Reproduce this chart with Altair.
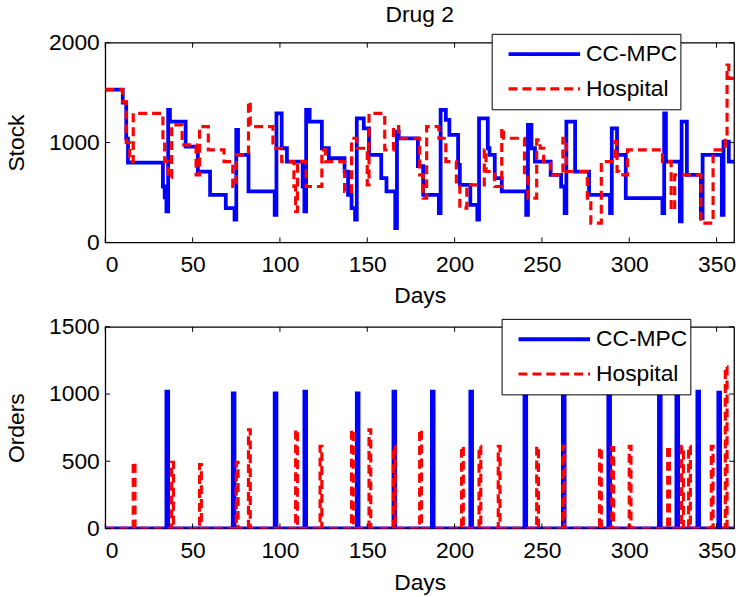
import altair as alt
import pandas as pd

series_names = ["CC-MPC", "Hospital"]
series_colors = ["#0000ff", "#ff0000"]

x_ticks = [0, 50, 100, 150, 200, 250, 300, 350]
stock_ticks = [0, 1000, 2000]
order_ticks = [0, 500, 1000, 1500]

# ---- Stock (top panel), change points of stairs ----
mpc_stock_days = [0, 10, 12, 13, 33, 34, 35, 36, 37, 46, 53, 60, 69, 74, 75, 76, 82, 97, 98, 101,
                  104, 113, 114, 115, 117, 124, 128, 137, 139, 141, 143, 144, 148, 151, 158, 161, 166, 167, 168, 179,
                  182, 191, 192, 195, 197, 202, 203, 209, 213, 214, 219, 220, 223, 227, 241, 242, 244, 246, 255, 261,
                  263, 264, 269, 277, 289, 290, 293, 298, 319, 320, 321, 329, 330, 333, 341, 342, 353, 354, 357, 360]
mpc_stock_vals = [1530, 1400, 1040, 800, 560, 450, 310, 1327, 1210, 960, 710, 477, 343, 227, 1127, 877, 510, 277, 1293, 943,
                  810, 560, 310, 1327, 1210, 943, 843, 710, 477, 343, 227, 1243, 1143, 877, 643, 510, 143, 1110, 1043, 763,
                  477, 293, 1327, 1227, 1077, 777, 577, 377, 227, 1243, 943, 877, 643, 510, 277, 1177, 943, 810, 677, 560,
                  293, 1210, 710, 477, 293, 1143, 877, 443, 293, 1293, 810, 210, 1210, 677, 243, 877, 277, 1010, 810, 810]

hosp_stock_days = [0, 10, 12, 14, 16, 33, 34, 36, 38, 44, 52, 54, 59, 68, 73, 75, 82, 83, 96, 101,
                   108, 109, 110, 115, 124, 126, 137, 141, 144, 150, 151, 160, 165, 168, 180, 182, 184, 191, 195, 201,
                   203, 207, 217, 218, 223, 227, 228, 240, 242, 247, 249, 251, 255, 262, 264, 276, 278, 284, 292, 293,
                   294, 299, 319, 324, 326, 341, 348, 355, 356, 357, 360]
hosp_stock_vals = [1530, 1410, 1000, 810, 1293, 1010, 810, 650, 1177, 977, 677, 1160, 927, 810, 560, 877, 1410, 1160, 943, 810,
                   560, 310, 810, 560, 927, 810, 510, 1043, 943, 577, 1293, 927, 1160, 1043, 677, 443, 1160, 1043, 810, 577,
                   343, 577, 927, 710, 560, 1143, 1043, 677, 443, 1027, 943, 810, 677, 1043, 710, 443, 193, 810, 1010, 710,
                   677, 927, 810, 327, 677, 193, 927, 1043, 1777, 1643, 1643]

# ---- Orders (bottom panel) ----
mpc_order_days = [35, 73, 97, 114, 144, 165, 187, 209, 240, 262, 288, 317, 327, 339, 351]
mpc_order_vals = [1017, 1005, 1005, 1017, 1005, 1017, 1017, 1017, 1017, 1017, 1017, 1017, 1017, 1017, 1010]

hosp_order_days = [16, 38, 54, 75, 82, 109, 123, 141, 151, 165, 180, 204, 214, 225, 247, 262, 283, 290, 300,
                   322, 330, 334, 347, 355]
hosp_order_vals = [492, 492, 475, 492, 734, 734, 611, 734, 734, 611, 734, 611, 611, 611, 611, 611, 601, 601, 611,
                   611, 611, 611, 611, 1203]

END_DAY = 360


def stairs(days, vals, name):
    return pd.DataFrame({"day": days, "value": vals, "series": name})


def spikes(days, vals, name):
    d, v = [0], [0]
    for x, y in zip(days, vals):
        d += [x, x + 1]
        v += [y, 0]
    d.append(END_DAY)
    v.append(0)
    return pd.DataFrame({"day": d, "value": v, "series": name})


stock_df = pd.concat([stairs(mpc_stock_days, mpc_stock_vals, series_names[0]),
                      stairs(hosp_stock_days, hosp_stock_vals, series_names[1])], ignore_index=True)
order_df = pd.concat([spikes(mpc_order_days, mpc_order_vals, series_names[0]),
                      spikes(hosp_order_days, hosp_order_vals, series_names[1])], ignore_index=True)

FONT = "Liberation Sans"
FS = 23
W = 633


def make_legend(lx, ly):
    return alt.Legend(
        title=None, orient="none", legendX=lx, legendY=ly,
        symbolType="stroke", symbolSize=72 * 72, symbolStrokeWidth=3.5,
        clipHeight=35, rowPadding=0, symbolOffset=12, labelOffset=4,
        labelFont=FONT, labelFontSize=FS, labelColor="#000",
        strokeColor="#000", fillColor="#fff", padding=3, cornerRadius=0,
        labelExpr="datum.label + '   '",
    )


def panel(df, ytitle, ydom, yticks, H, lx, ly):
    xs = alt.Scale(domain=[0, END_DAY], nice=False, zero=False)
    ys = alt.Scale(domain=ydom, nice=False)
    xa = alt.Axis(values=x_ticks, title="Days", labelPadding=11, titlePadding=9, format="d")
    ya = alt.Axis(values=yticks, title=ytitle, labelPadding=6, titlePadding=20, format="d")
    lines = alt.Chart(df).mark_line(interpolate="step-after", clip=True).encode(
        x=alt.X("day:Q", scale=xs, axis=xa),
        y=alt.Y("value:Q", scale=ys, axis=ya),
        color=alt.Color("series:N", scale=alt.Scale(domain=series_names, range=series_colors),
                        legend=make_legend(lx, ly)),
        strokeDash=alt.StrokeDash("series:N", scale=alt.Scale(domain=series_names, range=[[1, 0], [9, 5]]),
                                  legend=make_legend(lx, ly)),
        strokeWidth=alt.StrokeWidth("series:N", scale=alt.Scale(domain=series_names, range=[3.8, 3.2]),
                                    legend=None),
    )
    xt = pd.DataFrame({"day": x_ticks})
    yt = pd.DataFrame({"value": yticks})
    tk_bottom = alt.Chart(xt).mark_rule(color="#000", strokeWidth=1).encode(
        x=alt.X("day:Q", scale=xs, axis=xa), y=alt.value(H), y2=alt.value(H - 5))
    tk_top = alt.Chart(xt).mark_rule(color="#000", strokeWidth=1).encode(
        x=alt.X("day:Q", scale=xs, axis=xa), y=alt.value(0), y2=alt.value(5))
    tk_left = alt.Chart(yt).mark_rule(color="#000", strokeWidth=1).encode(
        y=alt.Y("value:Q", scale=ys, axis=ya), x=alt.value(0), x2=alt.value(5))
    tk_right = alt.Chart(yt).mark_rule(color="#000", strokeWidth=1).encode(
        y=alt.Y("value:Q", scale=ys, axis=ya), x=alt.value(W), x2=alt.value(W - 5))
    return alt.layer(lines, tk_bottom, tk_top, tk_left, tk_right).properties(width=W, height=H)


top = panel(stock_df, "Stock", [0, 2000], stock_ticks, 201, 389, -9).properties(
    title=alt.TitleParams("Drug 2", fontSize=FS, fontWeight="normal", font=FONT, color="#000",
                          anchor="middle", offset=5))
bottom = panel(order_df, "Orders", [0, 1500], order_ticks, 203, 399, -8)

chart = alt.vconcat(top, bottom, spacing=6).resolve_scale(
    color="independent", strokeDash="independent", strokeWidth="independent"
).resolve_legend(color="independent", strokeDash="independent").properties(
    padding={"left": 5, "top": 1, "right": 3, "bottom": 5}
).configure(font=FONT).configure_view(
    stroke="#000", strokeWidth=1.3
).configure_axis(
    domain=False, ticks=False, grid=False, labelFont=FONT, titleFont=FONT,
    labelFontSize=FS, titleFontSize=FS, titleFontWeight="normal",
    labelColor="#000", titleColor="#000"
)

chart.save("out.html", embed_options={"renderer": "svg", "actions": False})
